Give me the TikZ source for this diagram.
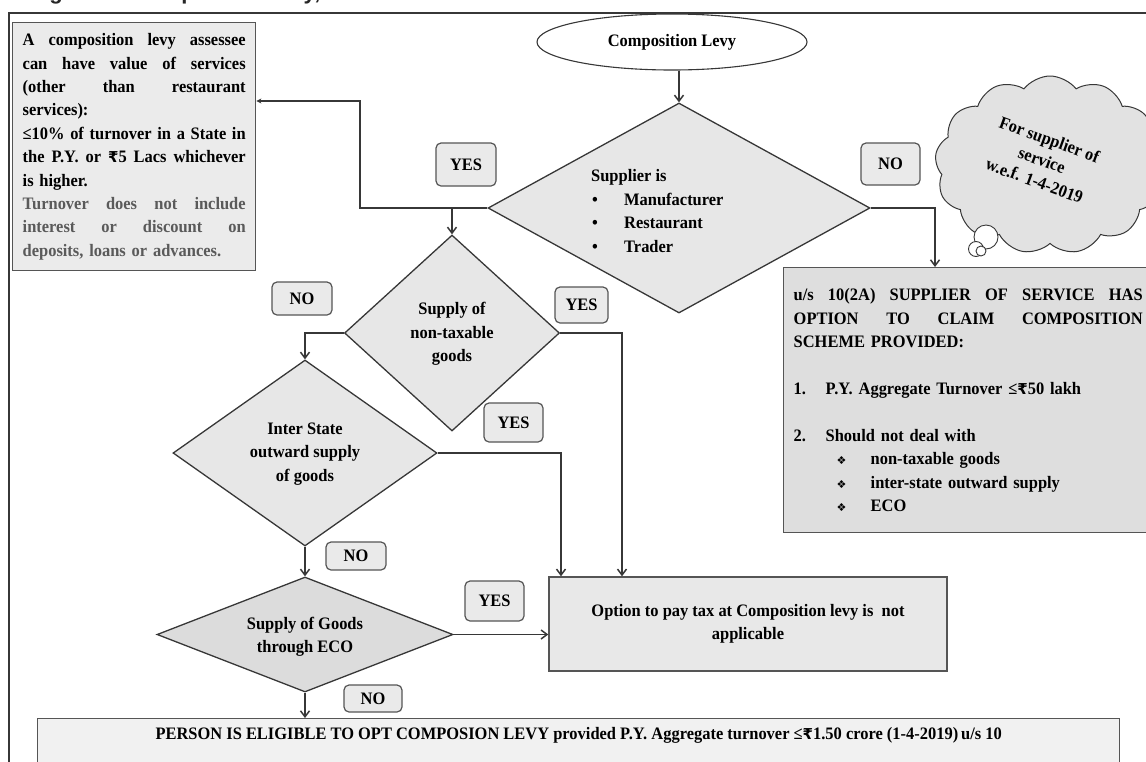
\documentclass[tikz,border=0pt]{standalone}
\usepackage{fontspec}
\setmainfont{Liberation Serif}[FakeStretch=0.94]
\newfontfamily\titlefont{Liberation Sans}
\newfontfamily\symfont{DejaVu Sans}
\usetikzlibrary{shapes.geometric,shapes.symbols,arrows.meta}
\definecolor{linec}{RGB}{55,55,55}
\definecolor{boxline}{RGB}{85,85,85}
\definecolor{boxfill}{RGB}{232,232,232}
\definecolor{lbfill}{RGB}{235,235,235}
\definecolor{dfill}{RGB}{231,231,231}
\definecolor{dfilldark}{RGB}{220,220,220}
\definecolor{labfill}{RGB}{234,234,234}
\definecolor{cloudfill}{RGB}{226,226,226}
\definecolor{greytext}{RGB}{90,90,90}
\newcommand\rupee{{\symfont\fontsize{15}{15}\selectfont ₹}}
\newcommand\dbul{{\symfont\fontsize{11}{11}\selectfont ❖}}
\newcommand\jline[2]{\makebox[#1][s]{\frenchspacing\spaceskip=0.25em plus 1fil\relax #2}}
\begin{document}
\begin{tikzpicture}[x=1pt,y=-1pt,
  txt/.style={font=\fontsize{17.5}{23.4}\selectfont\bfseries, inner sep=0pt, align=center, text=black},
  box/.style={draw=boxline, line width=1.4pt, fill=boxfill, font=\fontsize{17.5}{23.4}\selectfont\bfseries},
  dia/.style={diamond, draw=linec, line width=1.3pt, fill=dfill, inner sep=0pt},
  lab/.style={draw=boxline, line width=1.2pt, fill=labfill, rounded corners=5pt, inner sep=0pt,
              font=\fontsize{17.5}{20}\selectfont\bfseries},
  conn/.style={draw=linec, line width=1.5pt},
  arr/.style={conn, -{Straight Barb[length=6pt,width=9pt]}},
]
\useasboundingbox (0,0) rectangle (1146,761);

% cut-off title and frame
\node[anchor=base west, inner sep=0pt, text=black!85, font=\titlefont\bfseries\fontsize{22}{22}\selectfont] (title) at (15,-0.5) {Diagram of composition levy,};
\draw[linec, line width=1.6pt] (9,775) -- (9,13) -- (1160,13);

% left note box
\node[box, fill=lbfill, anchor=north west, text width=223pt, inner xsep=10pt, minimum height=248pt, align=left] (lb) at (12,22)
{\jline{223pt}{A composition levy assessee}\\
 \jline{223pt}{can have value of services}\\
 \jline{223pt}{(other than restaurant}\\
 services):\\
 \jline{223pt}{≤10\% of turnover in a State in}\\
 \jline{223pt}{the P.Y. or \rupee5 Lacs whichever}\\
 is higher.\\
 {\color{greytext}\jline{223pt}{Turnover does not include}}\\
 {\color{greytext}\jline{223pt}{interest or discount on}}\\
 {\color{greytext}deposits, loans or advances.}};

% start
\node[ellipse, draw=linec, line width=1.1pt, fill=white, minimum width=270pt, minimum height=56pt, txt] (ell) at (672,42) {Composition Levy};

% diamonds
\node[dia, minimum width=382pt, minimum height=210pt] (d1) at (679,208) {};
\node[txt, anchor=west, align=left] (d1t) at (591,211)
{Supplier is\\
 \makebox[33pt][l]{\hspace{1pt}•}Manufacturer\\
 \makebox[33pt][l]{\hspace{1pt}•}Restaurant\\
 \makebox[33pt][l]{\hspace{1pt}•}Trader};

\node[dia, minimum width=215pt, minimum height=196pt] (d2) at (452,333) {};
\node[txt] (d2t) at (452,334) {Supply of\\non-taxable\\goods};

\node[dia, minimum width=264pt, minimum height=186pt] (d3) at (305,453) {};
\node[txt] (d3t) at (305,454) {Inter State\\outward supply\\of goods};

\node[dia, fill=dfilldark, minimum width=296pt, minimum height=115pt] (d4) at (305,634.5) {};
\node[txt] (d4t) at (305,637) {Supply of Goods\\through ECO};

% result boxes
\node[box, minimum width=398pt, minimum height=94pt, align=center] (opt) at (748,624)
{Option to pay tax at Composition levy is\ \ not\\applicable};

\node[box, fill=boxfill!90!gray, anchor=north west, text width=349pt, inner xsep=10pt, minimum height=265pt, align=left] (rb) at (783,267)
{\jline{349pt}{u/s 10(2A) SUPPLIER OF SERVICE HAS}\\
 \jline{349pt}{OPTION TO CLAIM COMPOSITION}\\
 SCHEME PROVIDED:\\[23.4pt]
 \makebox[32pt][l]{1.}P.Y. Aggregate Turnover ≤\rupee50 lakh\\[23.4pt]
 \makebox[32pt][l]{2.}Should not deal with\\
 \hspace{43pt}\makebox[34pt][l]{\dbul}non-taxable goods\\
 \hspace{43pt}\makebox[34pt][l]{\dbul}inter-state outward supply\\
 \hspace{43pt}\makebox[34pt][l]{\dbul}ECO};

\node[box, fill=boxfill!60!white, anchor=north west, minimum width=1082pt, text height=12pt, text depth=40pt, inner ysep=8.5pt, align=center] (bot) at (37,718)
{PERSON IS ELIGIBLE TO OPT COMPOSION LEVY provided P.Y. Aggregate turnover ≤\rupee1.50 crore (1-4-2019)\,u/s 10};

% cloud
\node[cloud, cloud puffs=13, cloud puff arc=105, cloud ignores aspect, draw=linec, line width=1pt, fill=cloudfill, minimum width=230pt, minimum height=178pt] (cl) at (1050,165) {};
\node[txt, rotate=-20, font=\fontsize{17.5}{22}\selectfont\bfseries] (clt) at (1042,160) {For supplier of\\service\\w.e.f. 1-4-2019};
\draw[linec, line width=0.9pt, fill=white] (986,237) circle (12pt);
\draw[linec, line width=0.9pt, fill=white] (976,249) circle (7.5pt);
\draw[linec, line width=0.9pt, fill=white] (981,251) circle (5pt);

% labels
\node[lab, minimum width=60pt, minimum height=43pt] (yes1) at (466,164.5) {YES};
\node[lab, minimum width=59pt, minimum height=42pt] (no1) at (890.5,164) {NO};
\node[lab, minimum width=60pt, minimum height=33pt] (no2) at (302,298.5) {NO};
\node[lab, minimum width=53pt, minimum height=36pt] (yes2) at (581.5,305) {YES};
\node[lab, minimum width=59pt, minimum height=39pt] (yes3) at (513.5,422.5) {YES};
\node[lab, minimum width=60pt, minimum height=28pt] (no3) at (356,556) {NO};
\node[lab, minimum width=59pt, minimum height=40pt] (yes4) at (494.5,601) {YES};
\node[lab, minimum width=58pt, minimum height=27pt] (no4) at (373,698.5) {NO};

% connectors
\coordinate (k1) at (360,208);
\coordinate (k2) at (360,101);
\coordinate (k3) at (935,0);
\coordinate (k4) at (622,0);
\coordinate (k5) at (561,0);
\draw[arr] (d1.north |- ell.south) -- (d1.north);
\draw[conn, -{Stealth[length=5pt,width=5pt]}] (d1.west) -- (k1) -- (k2) -- (k2 -| lb.east);
\draw[arr] (d2.north |- d1.west) -- (d2.north);
\draw[arr] (d1.east) -| (k3 |- rb.north);
\draw[arr] (d2.west) -| (d3.north);
\draw[arr] (d2.east) -| (k4 |- opt.north);
\draw[arr] (d3.east) -| (k5 |- opt.north);
\draw[arr] (d3.south) -- (d4.north);
\draw[arr] (d4.east) -- (d4.east -| opt.west);
\draw[arr] (d4.south) -- (d4.south |- bot.north);
\end{tikzpicture}
\end{document}
